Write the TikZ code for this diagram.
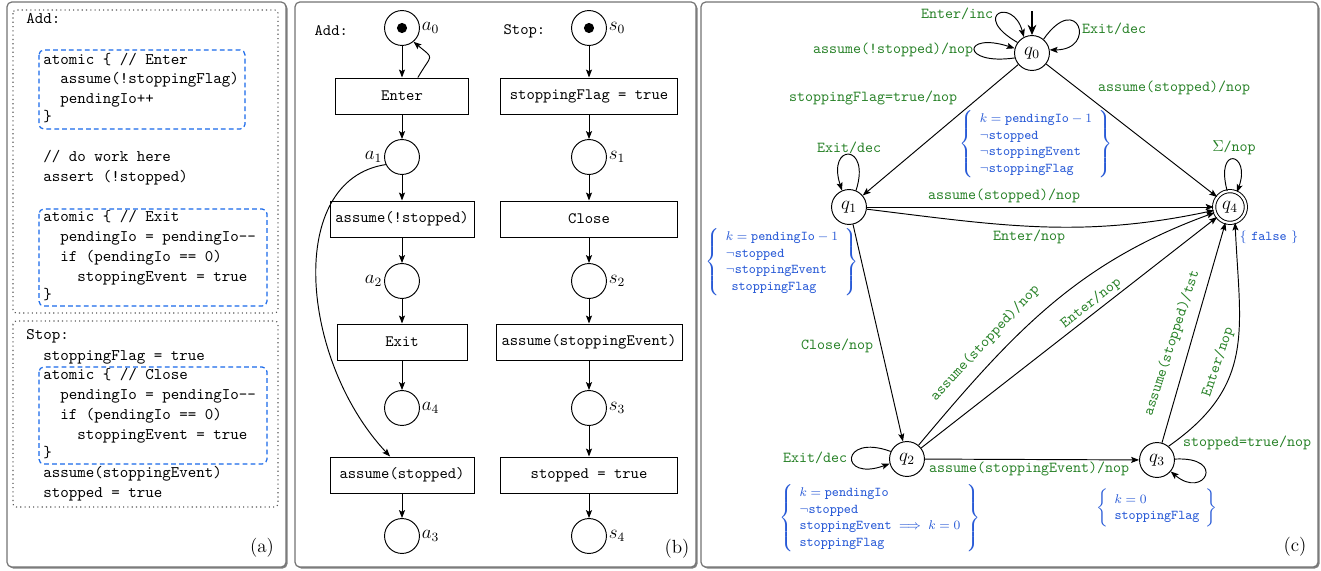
\documentclass[tikz,border=0pt]{standalone}
\usetikzlibrary{arrows.meta}
\definecolor{lblgreen}{RGB}{40,130,40}
\definecolor{annblue}{RGB}{40,90,215}
\definecolor{atomblue}{RGB}{25,105,235}
\begin{document}
\begin{tikzpicture}[x=0.63pt,y=0.63pt,
  >={Stealth[length=5pt,width=3.8pt,inset=1pt]},
  panel/.style={draw=black!55, line width=0.75pt, fill=white, rounded corners=3pt},
  panelshadow/.style={fill=black!50, rounded corners=3pt},
  codeblock/.style={draw=black!65, dotted, line width=0.7pt, rounded corners=2pt},
  atomicbox/.style={draw=atomblue, dash pattern=on 3pt off 2pt, line width=0.75pt, rounded corners=3pt},
  code/.style={font=\fontsize{10.2}{12}\selectfont\ttfamily, anchor=west, inner sep=0pt, text height=7.5pt, text depth=2.5pt},
  place/.style={circle, draw, line width=0.6pt, minimum size=22pt, inner sep=0pt},
  trans/.style={draw, line width=0.6pt, minimum height=22.7pt, inner sep=2pt, font=\ttfamily},
  arc/.style={->, line width=0.6pt},
  plabel/.style={font=\fontsize{12}{14}\selectfont, inner sep=1pt},
  state/.style={circle, draw, line width=0.6pt, minimum size=22pt, inner sep=0pt, font=\fontsize{12}{14}\selectfont},
  finalstate/.style={double, double distance=1.4pt, minimum size=20pt},
  lbl/.style={font=\fontsize{9.6}{11}\selectfont\ttfamily, text=lblgreen, inner sep=1pt},
  ann/.style={font=\fontsize{8.5}{10.4}\selectfont, text=annblue, inner sep=0pt},
  panelname/.style={font=\large, inner sep=0pt}]
\useasboundingbox (0,0) rectangle (1321,-571);

% ---------- panel frames ----------
\fill[panelshadow] (8.5,-3.5) rectangle (287.5,-568.5);
\draw[panel] (7,-2) rectangle (286,-567);
\fill[panelshadow] (296.5,-3.5) rectangle (697.5,-568.5);
\draw[panel] (295,-2) rectangle (696,-567);
\fill[panelshadow] (702.5,-3.5) rectangle (1319.5,-568.5);
\draw[panel] (701,-2) rectangle (1318,-567);

% ---------- (a) pseudo-code ----------
\draw[codeblock] (13,-10) rectangle (278,-313);
\draw[codeblock] (13,-321) rectangle (278,-507);
\draw[atomicbox] (39,-50) rectangle (245,-129);
\draw[atomicbox] (39,-209) rectangle (267,-306);
\draw[atomicbox] (39,-367) rectangle (267,-464);

\node[code] (c1) at (26,-20) {Add:};
\node[code] (c2) at (43,-61) {atomic \{ // Enter};
\node[code] (c3) at (60,-80) {assume(!stoppingFlag)};
\node[code] (c4) at (60,-100) {pendingIo++};
\node[code] (c5) at (43,-118) {\}};
\node[code] (c6) at (43,-158) {// do work here};
\node[code] (c7) at (43,-178) {assert (!stopped)};
\node[code] (c8) at (43,-218) {atomic \{ // Exit};
\node[code] (c9) at (60,-238) {pendingIo = pendingIo-{}-};
\node[code] (c10) at (60,-258) {if (pendingIo == 0)};
\node[code] (c11) at (77,-278) {stoppingEvent = true};
\node[code] (c12) at (43,-296) {\}};
\node[code] (c13) at (26,-336) {Stop:};
\node[code] (c14) at (43,-357) {stoppingFlag = true};
\node[code] (c15) at (43,-376) {atomic \{ // Close};
\node[code] (c16) at (60,-396) {pendingIo = pendingIo-{}-};
\node[code] (c17) at (60,-416) {if (pendingIo == 0)};
\node[code] (c18) at (77,-436) {stoppingEvent = true};
\node[code] (c19) at (43,-454) {\}};
\node[code] (c20) at (43,-474) {assume(stoppingEvent)};
\node[code] (c21) at (43,-494) {stopped = true};
\node[panelname] (pa) at (262,-548) {(a)};

% ---------- (b) Petri nets ----------
\node[font=\ttfamily, anchor=west] (addtitle) at (309,-31) {Add:};
\node[font=\ttfamily, anchor=west] (stoptitle) at (498,-31) {Stop:};

\node[place, label={[plabel]right:$a_0$}] (a0) at (402,-28) {};
\fill (a0) circle (3.2pt);
\node[trans, minimum width=83.2pt] (enter) at (402,-96) {Enter};
\node[place, label={[plabel]left:$a_1$}] (a1) at (402,-157) {};
\node[trans, minimum width=90.7pt] (anst) at (402,-219) {assume(!stopped)};
\node[place, label={[plabel]left:$a_2$}] (a2) at (402,-281) {};
\node[trans, minimum width=81.9pt] (exit) at (402,-342) {Exit};
\node[place, label={[plabel]right:$a_4$}] (a4) at (402,-408) {};
\node[trans, minimum width=90.7pt] (ast) at (402,-475) {assume(stopped)};
\node[place, label={[plabel]right:$a_3$}] (a3) at (402,-536) {};

\draw[arc] (a0) -- (enter);
\draw[arc] ([xshift=10pt]enter.north) to[out=60,in=-40,looseness=2] (a0.-50);
\draw[arc] (enter) -- (a1);
\draw[arc] (a1) -- (anst);
\draw[arc] (anst) -- (a2);
\draw[arc] (a2) -- (exit);
\draw[arc] (exit) -- (a4);
\draw[arc] (a1.205) .. controls (285,-180) and (300,-360) .. ([xshift=-7.5pt]ast.north);
\draw[arc] (ast) -- (a3);

\node[place, label={[plabel]right:$s_0$}] (s0) at (589,-28) {};
\fill (s0) circle (3.2pt);
\node[trans, minimum width=112.1pt] (sflag) at (589,-96) {stoppingFlag = true};
\node[place, label={[plabel]right:$s_1$}] (s1) at (589,-157) {};
\node[trans, minimum width=112.1pt] (close) at (589,-219) {Close};
\node[place, label={[plabel]right:$s_2$}] (s2) at (589,-281) {};
\node[trans, minimum width=117.2pt] (sev) at (589,-342) {assume(stoppingEvent)};
\node[place, label={[plabel]right:$s_3$}] (s3) at (589,-408) {};
\node[trans, minimum width=112.1pt] (sstop) at (589,-475) {stopped = true};
\node[place, label={[plabel]right:$s_4$}] (s4) at (589,-536) {};

\draw[arc] (s0) -- (sflag);
\draw[arc] (sflag) -- (s1);
\draw[arc] (s1) -- (close);
\draw[arc] (close) -- (s2);
\draw[arc] (s2) -- (sev);
\draw[arc] (sev) -- (s3);
\draw[arc] (s3) -- (sstop);
\draw[arc] (sstop) -- (s4);
\node[panelname] (pb) at (677,-549) {(b)};

% ---------- (c) automaton ----------
\node[state] (q0) at (1032,-53) {$q_0$};
\node[state] (q1) at (849,-207) {$q_1$};
\node[state, finalstate] (q4) at (1230,-207) {$q_4$};
\node[state] (q2) at (907,-459) {$q_2$};
\node[state] (q3) at (1157,-460) {$q_3$};

\coordinate (q0init) at (1032,-11);
\draw[line width=1.1pt, -{Stealth[length=6.5pt,width=5.5pt]}] (q0init) -- (q0);

% self loops
\draw[arc] (q0.144) .. controls +(150:55) and +(105:42) .. (q0.117);
\draw[arc] (q0.196) .. controls +(188:55) and +(162:55) .. (q0.165);
\draw[arc] (q0.50) .. controls +(55:60) and +(0:48) .. (q0.10);
\draw[arc] (q1.67) .. controls +(72:50) and +(108:50) .. (q1.113);
\draw[arc] (q4.100) .. controls +(105:48) and +(70:42) .. (q4.65);
\draw[arc] (q2.155) .. controls +(160:54) and +(200:54) .. (q2.195);
\draw[arc] (q3.3) .. controls +(3:52) and +(-40:44) .. (q3.-40);

% transitions
\draw[arc] (q0) -- (q1);
\draw[arc] (q0) -- (q4);
\draw[arc] (q1) -- (q4);
\draw[arc] (q1) to[out=-7,in=192] (q4);
\draw[arc] (q1) -- (q2);
\draw[arc] (q2) to[out=50,in=200] (q4);
\draw[arc] (q2) -- (q4);
\draw[arc] (q2) -- (q3);
\draw[arc] (q3) -- (q4);
\draw[arc] (q3.50) .. controls (1256,-385) and (1240,-330) .. (q4.-72);

% transition labels
\node[lbl] (l1) at (957,-14) {Enter/inc};
\node[lbl] (l2) at (893,-50) {assume(!stopped)/nop};
\node[lbl] (l3) at (1114,-29) {Exit/dec};
\node[lbl] (l4) at (873,-98) {stoppingFlag=true/nop};
\node[lbl] (l5) at (1174,-88) {assume(stopped)/nop};
\node[lbl] (l6) at (849,-148) {Exit/dec};
\node[lbl] (l7) at (1234,-148) {$\Sigma$/nop};
\node[lbl] (l8) at (1004,-196) {assume(stopped)/nop};
\node[lbl] (l9) at (1029,-237) {Enter/nop};
\node[lbl] (l10) at (837,-346) {Close/nop};
\node[lbl, rotate=47] (l11) at (985,-343) {assume(stopped)/nop};
\node[lbl, rotate=38] (l12) at (1091,-303) {Enter/nop};
\node[lbl, rotate=72] (l13) at (1172,-343) {assume(stopped)/tst};
\node[lbl, rotate=71.5] (l14) at (1218,-362) {Enter/nop};
\node[lbl] (l15) at (1247,-443) {stopped=true/nop};
\node[lbl] (l16) at (1029,-469) {assume(stoppingEvent)/nop};
\node[lbl] (l17) at (815,-458) {Exit/dec};

% state invariants
\node[ann] (inv0) at (1036,-144) {$\left\{\begin{array}{@{\hspace{4pt}}l@{\hspace{4pt}}}
  k = \texttt{pendingIo} - 1\\ \neg\texttt{stopped}\\ \neg\texttt{stoppingEvent}\\ \neg\texttt{stoppingFlag}
  \end{array}\right\}$};
\node[ann] (inv1) at (782,-262) {$\left\{\begin{array}{@{\hspace{4pt}}l@{\hspace{4pt}}}
  k = \texttt{pendingIo} - 1\\ \neg\texttt{stopped}\\ \neg\texttt{stoppingEvent}\\ \hspace{3.6pt}\texttt{stoppingFlag}
  \end{array}\right\}$};
\node[ann] (inv4) at (1269,-237) {$\left\{\ \texttt{false}\ \right\}$};
\node[ann] (inv2) at (880,-518) {$\left\{\begin{array}{@{\hspace{4pt}}l@{\hspace{4pt}}}
  k = \texttt{pendingIo}\\ \neg\texttt{stopped}\\ \texttt{stoppingEvent} \;\Longrightarrow\; k = 0\\ \texttt{stoppingFlag}
  \end{array}\right\}$};
\node[ann] (inv3) at (1157,-508) {$\left\{\begin{array}{@{\hspace{4pt}}l@{\hspace{4pt}}}
  k = 0\\ \texttt{stoppingFlag}
  \end{array}\right\}$};

\node[panelname] (pc) at (1295,-547) {(c)};
\end{tikzpicture}
\end{document}
